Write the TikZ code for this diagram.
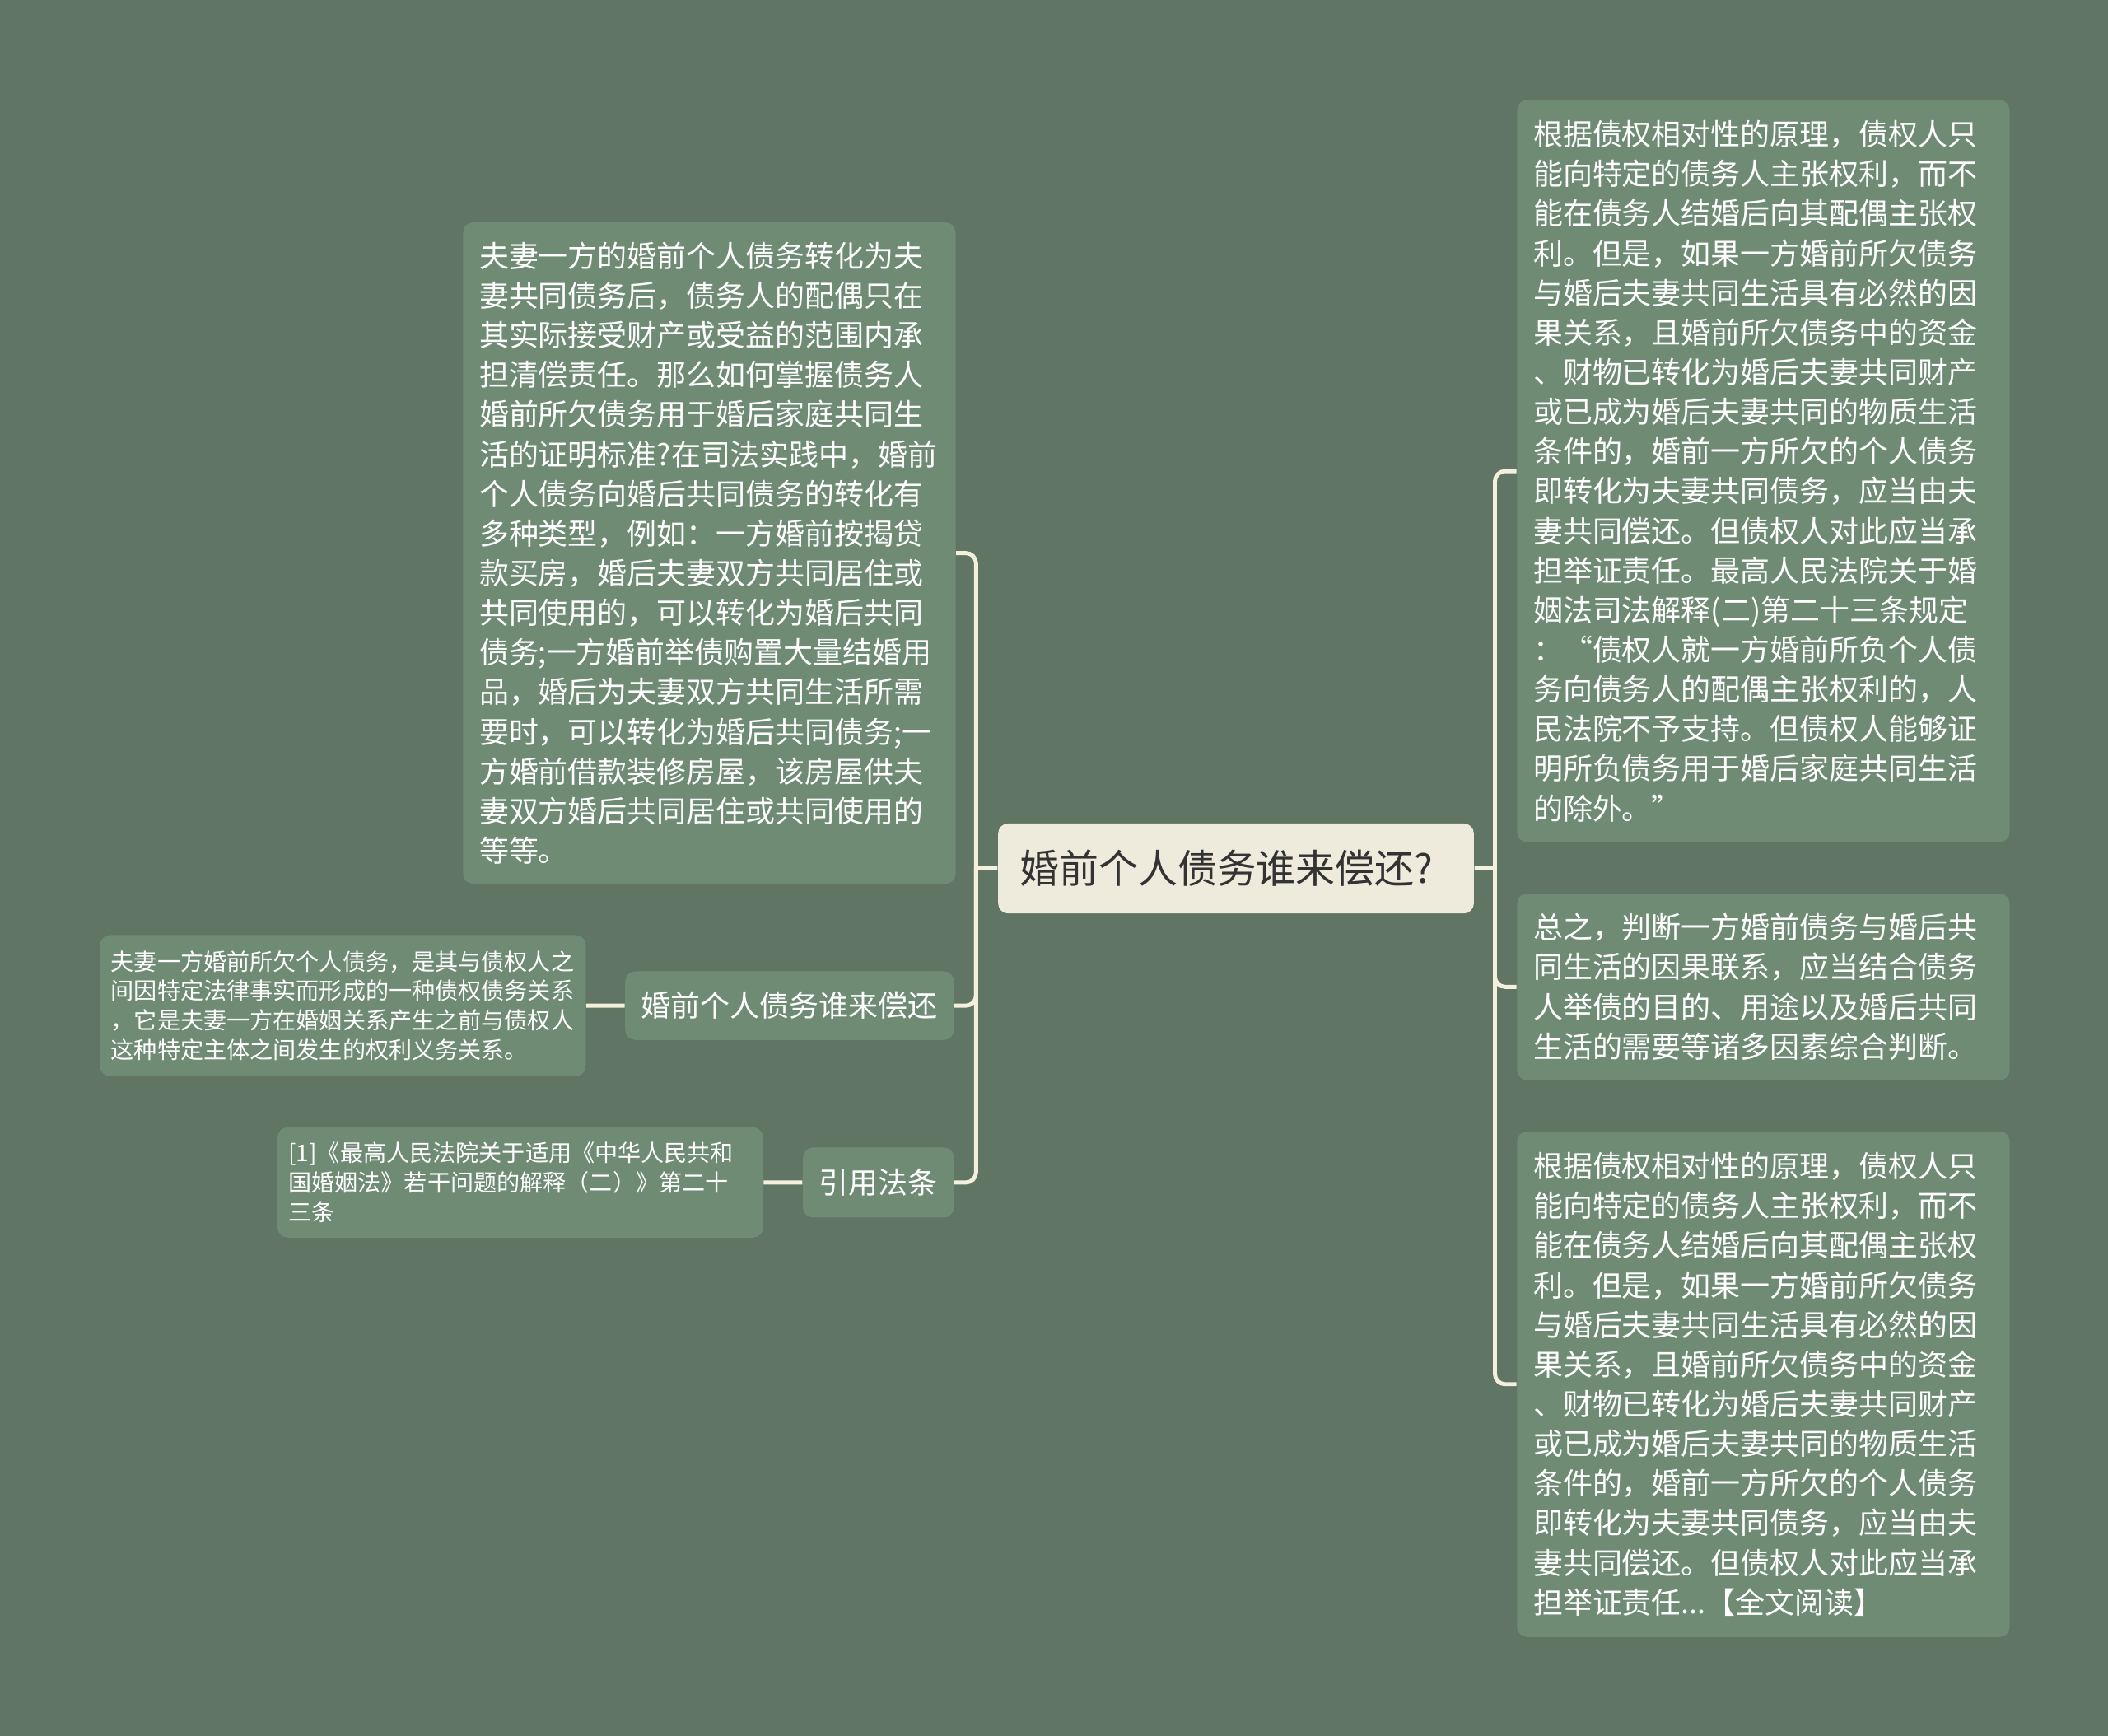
\documentclass[tikz,border=0pt]{standalone}
\usepackage{fontspec}
\setmainfont{Noto Sans CJK SC}
\usepackage{tikz}
\usetikzlibrary{positioning}

\definecolor{bgcol}{RGB}{96,117,99}
\definecolor{leafcol}{RGB}{111,139,116}
\definecolor{rootcol}{RGB}{239,235,220}
\definecolor{linkcol}{RGB}{243,240,221}
\definecolor{rootink}{RGB}{51,51,51}

\begin{document}
\begin{tikzpicture}
                    [
                        x=0.46454pt, y=-0.46454pt,
                        every node/.style={anchor=north west, rounded corners=3.5pt, align=left, inner ysep=2pt},
                        root/.style={fill=rootcol, text=rootink, font=\fontsize{13.65pt}{16pt}\selectfont, inner xsep=7.4pt, text width=149.6pt, minimum height=31.1pt},
                        leaf/.style={fill=leafcol, text=white, font=\fontsize{10.24pt}{13.7pt}\selectfont, inner xsep=5.6pt},
                        note/.style={fill=leafcol, text=white, font=\fontsize{8pt}{10.2pt}\selectfont, inner xsep=3.8pt, text width=160.2pt},
                        link/.style={draw=linkcol, line width=1.4pt, rounded corners=3.5pt}
                    ]

                    % Hintergrund
                    \fill[bgcol] (0,0) rectangle (1568,1291);
                    \useasboundingbox (0,0) rectangle (1568,1291);

                    % Wurzel
                    \node[root] (c) at (742,612) {婚前个人债务谁来偿还?};

                    % linke Seite
                    \node[leaf, text width=159pt, minimum height=228.5pt] (l1) at (344,165) {夫妻一方的婚前个人债务转化为夫\\妻共同债务后，债务人的配偶只在\\其实际接受财产或受益的范围内承\\担清偿责任。那么如何掌握债务人\\婚前所欠债务用于婚后家庭共同生\\活的证明标准?在司法实践中，婚前\\个人债务向婚后共同债务的转化有\\多种类型，例如：一方婚前按揭贷\\款买房，婚后夫妻双方共同居住或\\共同使用的，可以转化为婚后共同\\债务;一方婚前举债购置大量结婚用\\品，婚后为夫妻双方共同生活所需\\要时，可以转化为婚后共同债务;一\\方婚前借款装修房屋，该房屋供夫\\妻双方婚后共同居住或共同使用的\\等等。};
                    \node[leaf, anchor=north east, minimum height=23.7pt] (l2) at (710,722) {婚前个人债务谁来偿还};
                    \node[leaf, anchor=north east, minimum height=24.2pt] (l3) at (710,853) {引用法条};
                    \node[note, minimum height=48.8pt] (ll1) at (74,695) {夫妻一方婚前所欠个人债务，是其与债权人之\\间因特定法律事实而形成的一种债权债务关系\\，它是夫妻一方在婚姻关系产生之前与债权人\\这种特定主体之间发生的权利义务关系。};
                    \node[note, minimum height=38.1pt] (ll3) at (206,838) {[1]《最高人民法院关于适用《中华人民共和\\国婚姻法》若干问题的解释（二）》第二十\\三条};

                    % rechte Seite
                    \node[leaf, text width=159pt, minimum height=256.4pt] (r1) at (1128,74) {根据债权相对性的原理，债权人只\\能向特定的债务人主张权利，而不\\能在债务人结婚后向其配偶主张权\\利。但是，如果一方婚前所欠债务\\与婚后夫妻共同生活具有必然的因\\果关系，且婚前所欠债务中的资金\\、财物已转化为婚后夫妻共同财产\\或已成为婚后夫妻共同的物质生活\\条件的，婚前一方所欠的个人债务\\即转化为夫妻共同债务，应当由夫\\妻共同偿还。但债权人对此应当承\\担举证责任。最高人民法院关于婚\\姻法司法解释(二)第二十三条规定\\：“债权人就一方婚前所负个人债\\务向债务人的配偶主张权利的，人\\民法院不予支持。但债权人能够证\\明所负债务用于婚后家庭共同生活\\的除外。”};
                    \node[leaf, text width=159pt, minimum height=64.6pt] (r2) at (1128,664) {总之，判断一方婚前债务与婚后共\\同生活的因果联系，应当结合债务\\人举债的目的、用途以及婚后共同\\生活的需要等诸多因素综合判断。};
                    \node[leaf, text width=159pt, minimum height=174.7pt] (r3) at (1128,841) {根据债权相对性的原理，债权人只\\能向特定的债务人主张权利，而不\\能在债务人结婚后向其配偶主张权\\利。但是，如果一方婚前所欠债务\\与婚后夫妻共同生活具有必然的因\\果关系，且婚前所欠债务中的资金\\、财物已转化为婚后夫妻共同财产\\或已成为婚后夫妻共同的物质生活\\条件的，婚前一方所欠的个人债务\\即转化为夫妻共同债务，应当由夫\\妻共同偿还。但债权人对此应当承\\担举证责任...【全文阅读】};

                    % Verbindungen
                    \coordinate (lb) at (726,645.5);
                    \coordinate (rb) at (1112,645.5);
                    \draw[link] (c.west) -- (lb);
                    \foreach \n in {l1,l2,l3} \draw[link] (lb) |- (\n.east);
                    \draw[link] (c.east) -- (rb);
                    \foreach \n in {r1,r2,r3} \draw[link] (rb) |- (\n.west);
                    \draw[link] (l2.west) -- (ll1.east);
                    \draw[link] (l3.west) -- (ll3.east);
                \end{tikzpicture}
\end{document}
